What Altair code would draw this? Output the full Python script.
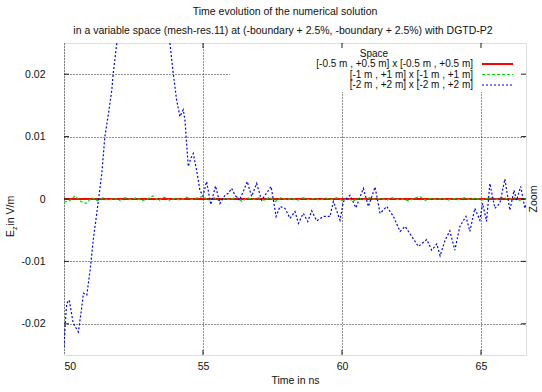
import altair as alt
import pandas as pd

# ---------------- data ----------------
t_grid = [50.0, 50.2, 50.4, 50.6, 50.8, 51.0, 51.2, 51.4, 51.6, 51.8,
          52.0, 52.2, 52.4, 52.6, 52.8, 53.0, 53.2, 53.4, 53.6, 53.8,
          54.0, 54.2, 54.4, 54.6, 54.8, 55.0, 55.2, 55.4, 55.6, 55.8,
          56.0, 56.2, 56.4, 56.6, 56.8, 57.0, 57.2, 57.4, 57.6, 57.8,
          58.0, 58.2, 58.4, 58.6, 58.8, 59.0, 59.2, 59.4, 59.6, 59.8,
          60.0, 60.2, 60.4, 60.6, 60.8, 61.0, 61.2, 61.4, 61.6, 61.8,
          62.0, 62.2, 62.4, 62.6, 62.8, 63.0, 63.2, 63.4, 63.6, 63.8,
          64.0, 64.2, 64.4, 64.6, 64.8, 65.0, 65.2, 65.4, 65.6, 65.8,
          66.0, 66.2, 66.4, 66.6]

ez_05 = [0.0] * 84  # red: [-0.5 m , +0.5 m]

ez_1 = [-0.0005, -0.0003, 0.0005, -0.0004, -0.0007, 0.0002, -0.0003, 0.0002, -0.0002, 0.0001,
        -0.0002, 0.0002, -0.0001, 0.0002, -0.0003, 0.0000, 0.0005, -0.0003, 0.0003, -0.0002,
        0.0001, -0.0002, 0.0003, -0.0001, 0.0002, 0.0004, -0.0002, 0.0002, -0.0003, 0.0001,
        -0.0001, 0.0004, -0.0004, 0.0002, -0.0001, 0.0002, -0.0002, 0.0003, -0.0004, 0.0002,
        -0.0001, 0.0001, -0.0002, 0.0002, -0.0001, 0.0001, -0.0002, 0.0002, -0.0001, 0.0002,
        -0.0002, 0.0001, -0.0003, 0.0001, -0.0001, 0.0002, -0.0001, 0.0001, -0.0002, 0.0002,
        -0.0001, 0.0000, -0.0003, 0.0001, 0.0004, -0.0002, 0.0001, -0.0001, 0.0001, -0.0002,
        0.0001, -0.0001, 0.0002, -0.0001, 0.0002, -0.0002, 0.0001, 0.0002, -0.0001, 0.0003,
        -0.0001, 0.0002, -0.0002, 0.0001]

t_2 = [50.00, 50.05, 50.10, 50.19, 50.33, 50.45, 50.52, 50.64, 50.70, 50.82,
       50.94, 51.05, 51.24, 51.36, 51.47, 51.60, 51.72, 51.77, 51.90, 52.30,
       52.80, 53.30, 53.81, 53.93, 54.05, 54.17, 54.29, 54.35, 54.47, 54.56,
       54.65, 54.77, 54.89, 55.00, 55.13, 55.28, 55.45, 55.61, 55.79, 55.91,
       56.03, 56.15, 56.31, 56.45, 56.59, 56.75, 56.93, 57.11, 57.45, 57.63,
       57.77, 57.95, 58.13, 58.31, 58.43, 58.61, 58.77, 58.91, 59.09, 59.33,
       59.57, 59.69, 59.93, 60.05, 60.29, 60.50, 60.77, 60.95, 61.19, 61.37,
       61.61, 61.85, 62.09, 62.27, 62.51, 62.75, 63.05, 63.23, 63.41, 63.53,
       63.71, 63.88, 64.06, 64.24, 64.46, 64.60, 64.78, 64.96, 65.06, 65.20,
       65.32, 65.50, 65.68, 65.86, 66.04, 66.19, 66.28, 66.43, 66.58, 66.62]
ez_2 = [-0.0237, -0.0195, -0.0167, -0.0162, -0.0199, -0.0208, -0.0213, -0.0173, -0.0151, -0.0154,
        -0.0114, -0.0066, -0.0002, 0.0041, 0.0100, 0.0137, 0.0175, 0.0201, 0.0250, 0.0340,
        0.0370, 0.0340, 0.0250, 0.0201, 0.0159, 0.0132, 0.0143, 0.0127, 0.0052, 0.0065,
        0.0073, 0.0046, 0.0014, 0.0005, 0.0028, -0.0009, 0.0021, -0.0007, 0.0006, 0.0009,
        0.0017, 0.0006, -0.0002, 0.0012, 0.0028, 0.0004, 0.0025, -0.0002, 0.0020, -0.0028,
        -0.0012, -0.0015, -0.0031, -0.0020, -0.0039, -0.0023, -0.0036, -0.0019, -0.0035, -0.0028,
        -0.0028, -0.0004, -0.0034, -0.0004, 0.0006, -0.0014, 0.0017, -0.0012, 0.0019, -0.0023,
        -0.0012, -0.0028, -0.0052, -0.0044, -0.0060, -0.0076, -0.0065, -0.0082, -0.0072, -0.0091,
        -0.0066, -0.0051, -0.0082, -0.0044, -0.0028, -0.0052, -0.0015, -0.0034, -0.0007, -0.0036,
        0.0025, -0.0015, -0.0007, 0.0032, -0.0018, 0.0014, -0.0002, 0.0020, -0.0015, -0.0010]

series_labels = ["[-0.5 m , +0.5 m] x [-0.5 m , +0.5 m]",
                 "[-1 m , +1 m] x [-1 m , +1 m]",
                 "[-2 m , +2 m] x [-2 m , +2 m]"]
series_colors = ["#ff0000", "#00dd00", "#0000ff"]
series_dashes = [[1, 0], [3, 2], [2, 2]]
series_widths = [1.8, 1.2, 1.2]

x_ticks = [50, 55, 60, 65]
y_ticks = [-0.02, -0.01, 0, 0.01, 0.02]

X_DOMAIN = [50, 66.62]
Y_DOMAIN = [-0.025, 0.025]
W, H = 462, 312
FONT = "Liberation Sans"
FS = 10.5
KFS = 10

xs = alt.Scale(domain=X_DOMAIN, nice=False, zero=False)
ys = alt.Scale(domain=Y_DOMAIN, nice=False, zero=False)

df_red = pd.DataFrame({"t": t_grid, "v": ez_05})
df_green = pd.DataFrame({"t": t_grid, "v": ez_1})
df_blue = pd.DataFrame({"t": t_2, "v": ez_2})
one = pd.DataFrame({"a": [0]})

# base layer carrying axes & grid
base = alt.Chart(df_red).mark_line(opacity=0).encode(
    x=alt.X("t:Q", scale=xs, axis=alt.Axis(
        values=x_ticks, title="Time in ns", grid=True, tickSize=0, domain=False,
        labelPadding=6, titlePadding=4, labelFont=FONT, titleFont=FONT,
        labelFontSize=FS, titleFontSize=FS, titleFontWeight="normal",
        labelColor="#111", titleColor="#111",
        gridColor="#222", gridDash=[1, 2], gridWidth=1)),
    y=alt.Y("v:Q", scale=ys, axis=alt.Axis(
        values=y_ticks, title=None, grid=True, tickSize=0, domain=False,
        labelPadding=19, labelFont=FONT, labelFontSize=FS, labelColor="#111",
        labelExpr="datum.value == 0 ? '0' : (datum.value < 0 ? '-' + format(-datum.value, '.2f') : format(datum.value, '.2f'))",
        gridColor="#222", gridDash=[1, 2], gridWidth=1)),
)

def series_layer(df, i):
    return alt.Chart(df).mark_line(
        clip=True, color=series_colors[i], strokeDash=series_dashes[i],
        strokeWidth=series_widths[i]
    ).encode(x=alt.X("t:Q", scale=xs), y=alt.Y("v:Q", scale=ys))

red = series_layer(df_red, 0)
green = series_layer(df_green, 1)
blue = series_layer(df_blue, 2)

# opaque key box
key_box = alt.Chart(one).mark_rect(color="white").encode(
    x=alt.value(166), x2=alt.value(W - 1), y=alt.value(1), y2=alt.value(49))

# inward ticks
df_xt = pd.DataFrame({"t": x_ticks[1:]})
df_yt = pd.DataFrame({"v": y_ticks})
tick_col = "#222"
xt_bottom = alt.Chart(df_xt).mark_rule(color=tick_col).encode(
    x=alt.X("t:Q", scale=xs), y=alt.value(H), y2=alt.value(H - 5))
xt_top = alt.Chart(df_xt).mark_rule(color=tick_col).encode(
    x=alt.X("t:Q", scale=xs), y=alt.value(0), y2=alt.value(5))
yt_left = alt.Chart(df_yt).mark_rule(color=tick_col).encode(
    y=alt.Y("v:Q", scale=ys), x=alt.value(0), x2=alt.value(5))
yt_right = alt.Chart(df_yt).mark_rule(color=tick_col).encode(
    y=alt.Y("v:Q", scale=ys), x=alt.value(W), x2=alt.value(W - 5))

def txt(s, x, y, align="center", angle=0, size=FS):
    return alt.Chart(one).mark_text(
        text=s, font=FONT, fontSize=size, color="#111", align=align,
        baseline="middle", angle=angle
    ).encode(x=alt.value(x), y=alt.value(y))

title1 = txt("Time evolution of the numerical solution", 221, -31)
title2 = txt("in a variable space (mesh-res.11) at (-boundary + 2.5%, -boundary + 2.5%) with DGTD-P2", 219, -12)
ytitle_e = txt("E", -53, 194, align="left", angle=270)
ytitle_z = txt("z", -49.5, 187, align="left", angle=270, size=7.5)
ytitle_rest = txt(" in V/m", -53, 182.5, align="left", angle=270)
zoom_lbl = txt("Zoom", 470, 156, align="center", angle=270)

key_title = txt("Space", 310, 10.5, size=KFS)
key_layers = []
for i, lab in enumerate(series_labels):
    yy = 21 + 10.5 * i
    key_layers.append(txt(lab, 409, yy, align="right", size=KFS))
    key_layers.append(alt.Chart(one).mark_rule(
        color=series_colors[i], strokeDash=series_dashes[i], strokeWidth=series_widths[i]
    ).encode(x=alt.value(418), x2=alt.value(449), y=alt.value(yy), y2=alt.value(yy)))

chart = alt.layer(
    base, key_box, red, green, blue,
    xt_bottom, xt_top, yt_left, yt_right,
    title1, title2, ytitle_e, ytitle_z, ytitle_rest, zoom_lbl, key_title, *key_layers
).properties(
    width=W, height=H, autosize="none",
    padding={"left": 64, "top": 43, "right": 16, "bottom": 37}
).configure_view(stroke="#222", strokeWidth=1.5).configure(background="white")

chart.save("out.html", embed_options={"renderer": "svg", "actions": False})
